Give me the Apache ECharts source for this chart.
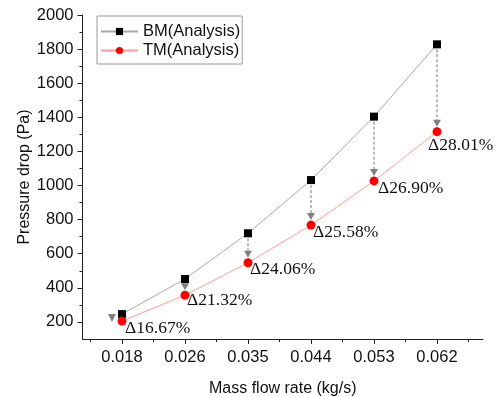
<!DOCTYPE html>
<html>
<head>
<meta charset="utf-8">
<script src="https://cdn.jsdelivr.net/npm/echarts@6/dist/echarts.min.js"></script>
<style>
html,body{margin:0;padding:0;background:#fff;}
#chart{width:501px;height:397px;}
</style>
</head>
<body>
<div id="chart"></div>
<script>
// ---- data ----
const categories = ['0.018', '0.026', '0.035', '0.044', '0.053', '0.062'];
const bmValues = [246, 452, 720, 1032, 1404, 1828];
const tmValues = [205, 357, 547, 768, 1027, 1316];
const deltaLabels = ['\u039416.67%', '\u039421.32%', '\u039424.06%', '\u039425.58%', '\u039426.90%', '\u039428.01%'];
const yTickValues = [200, 400, 600, 800, 1000, 1200, 1400, 1600, 1800, 2000];
const yMinorValues = [300, 500, 700, 900, 1100, 1300, 1500, 1700, 1900];
const seriesNames = ['BM(Analysis)', 'TM(Analysis)'];

// ---- styling helpers (pixel offsets of annotation text) ----
const labelOffsets = [[3, 7], [2, 5], [2, 7], [2, 7], [4, 7], [-9, 14]];

const xMajor = categories.map((c, i) => i);
const xMinor = categories.map((c, i) => i - 0.5).concat([categories.length - 0.5]);

const sansFont = '"Liberation Sans", Arial, sans-serif';
const serifFont = '"Liberation Serif", "Times New Roman", serif';

const chart = echarts.init(document.getElementById('chart'), null, {renderer: 'canvas'});

const axisColor = '#222';
const xMin = -0.627, xMax = 5.73;

const option = {
  animation: false,
  backgroundColor: '#fff',
  grid: {left: 82.5, right: 18, top: 15, bottom: 58, containLabel: false, outerBoundsMode: 'none'},
  legend: {
    data: seriesNames,
    orient: 'vertical',
    left: 97,
    top: 16,
    itemWidth: 37,
    itemHeight: 9,
    itemGap: 2,
    padding: [7, 2, 5, 3],
    borderColor: '#999',
    borderWidth: 1,
    textStyle: {fontFamily: sansFont, fontSize: 16.5, color: '#111', padding: [0, 0, 0, 0]}
  },
  xAxis: [
    {
      type: 'value', min: xMin, max: xMax,
      name: 'Mass flow rate (kg/s)', nameLocation: 'middle', nameGap: 42, nameMoveOverlap: false,
      nameTextStyle: {fontFamily: sansFont, fontSize: 16, color: '#111'},
      axisLine: {show: true, onZero: false, lineStyle: {color: axisColor, width: 1}},
      axisTick: {show: true, customValues: xMajor, length: 5, lineStyle: {color: axisColor}},
      axisLabel: {customValues: xMajor, formatter: v => categories[Math.round(v)], margin: 10,
        fontFamily: sansFont, fontSize: 16.5, color: '#111'},
      splitLine: {show: false}
    },
    {
      type: 'value', min: xMin, max: xMax, position: 'bottom',
      axisLine: {show: false, onZero: false},
      axisTick: {show: true, customValues: xMinor, length: 3, lineStyle: {color: axisColor}},
      axisLabel: {show: false},
      splitLine: {show: false}
    }
  ],
  yAxis: [
    {
      type: 'value', min: 100, max: 2000,
      name: 'Pressure drop (Pa)', nameLocation: 'middle', nameGap: 50, nameMoveOverlap: false,
      nameTextStyle: {fontFamily: sansFont, fontSize: 16, color: '#111'},
      axisLine: {show: true, onZero: false, lineStyle: {color: axisColor, width: 1}},
      axisTick: {show: true, customValues: yTickValues, length: 5, lineStyle: {color: axisColor}},
      axisLabel: {customValues: yTickValues, formatter: v => String(v), margin: 9,
        fontFamily: sansFont, fontSize: 16.5, color: '#111'},
      splitLine: {show: false}
    },
    {
      type: 'value', min: 100, max: 2000, position: 'left',
      axisLine: {show: false, onZero: false},
      axisTick: {show: true, customValues: yMinorValues, length: 3, lineStyle: {color: axisColor}},
      axisLabel: {show: false},
      splitLine: {show: false}
    }
  ],
  series: [
    {
      name: seriesNames[0], type: 'line',
      data: bmValues.map((v, i) => [i, v]),
      symbol: 'rect', symbolSize: 8,
      lineStyle: {color: '#a8a8a8', width: 1},
      itemStyle: {color: '#000'},
      z: 2
    },
    {
      name: seriesNames[1], type: 'line',
      data: tmValues.map((v, i) => [i, v]),
      symbol: 'circle', symbolSize: 9,
      lineStyle: {color: '#ff9a9a', width: 1},
      itemStyle: {color: '#ff0000'},
      z: 2
    },
    {
      name: 'annotations', type: 'custom',
      data: categories.map((c, i) => [i, bmValues[i], tmValues[i]]),
      encode: {x: 0, y: [1, 2]},
      clip: false,
      silent: true,
      z: 3,
      renderItem: function (params, api) {
        const i = api.value(0);
        const p1 = api.coord([i, api.value(1)]);
        const p2 = api.coord([i, api.value(2)]);
        const children = [];
        const arrowColor = '#808080';
        if (i > 0) {
          children.push({
            type: 'line',
            shape: {x1: p1[0], y1: p1[1] + 5, x2: p2[0], y2: p2[1] - 11},
            style: {stroke: '#777', lineWidth: 1, lineDash: [3, 2]}
          });
          children.push({
            type: 'polygon',
            shape: {points: [[p2[0] - 4, p2[1] - 12], [p2[0] + 4, p2[1] - 12], [p2[0], p2[1] - 5]]},
            style: {fill: arrowColor}
          });
        } else {
          const ax = p2[0] - 10;
          children.push({
            type: 'polygon',
            shape: {points: [[ax - 4, p2[1] - 7], [ax + 4, p2[1] - 7], [ax, p2[1] + 1]]},
            style: {fill: arrowColor}
          });
        }
        const off = labelOffsets[i];
        children.push({
          type: 'text',
          x: p2[0] + off[0], y: p2[1] + off[1],
          style: {
            text: deltaLabels[i],
            fontFamily: serifFont, fontSize: 17.5,
            fill: '#111',
            align: 'left', verticalAlign: 'middle'
          }
        });
        return {type: 'group', children: children};
      }
    }
  ]
};
chart.setOption(option);
</script>
</body>
</html>
